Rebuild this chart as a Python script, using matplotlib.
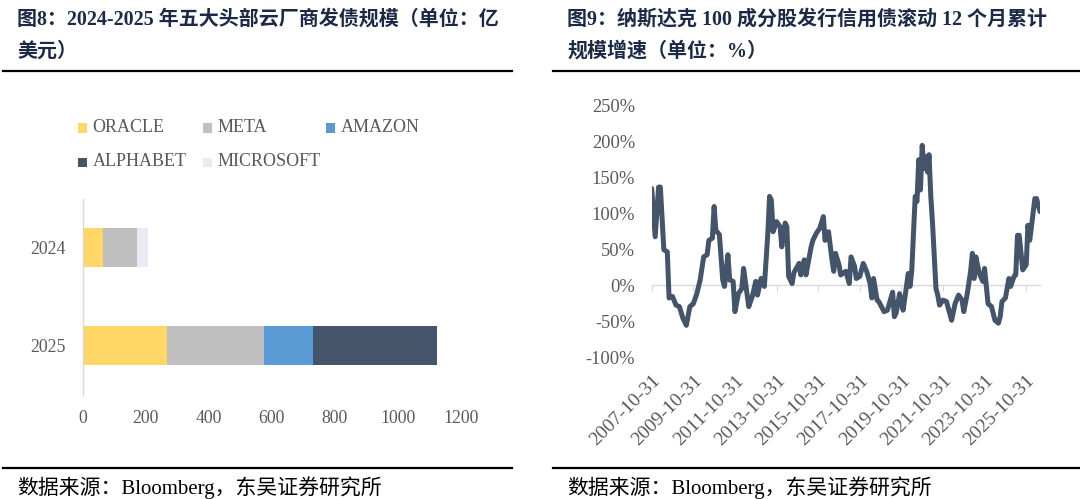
import matplotlib
matplotlib.use("Agg")
import matplotlib.pyplot as plt
from matplotlib.patches import Rectangle
from matplotlib.lines import Line2D
import pandas as pd
import numpy as np

# ---------------- data: left chart ----------------
years = ["2024", "2025"]
series_names = ["ORACLE", "META", "AMAZON", "ALPHABET", "MICROSOFT"]
oracle = [65, 268]
meta = [106, 308]
amazon = [0, 156]
alphabet = [0, 392]
microsoft = [37, 0]
bar_colors = ["#FFD766", "#BFBFBF", "#5B9BD5", "#44546A", "#E8EAF4"]
x_ticks_left = [0, 200, 400, 600, 800, 1000, 1200]

# ---------------- data: right chart ----------------
months = [
    "2007-10", "2007-12",
    "2008-02", "2008-03", "2008-05", "2008-07", "2008-08", "2008-10", "2008-12",
    "2009-02", "2009-04", "2009-06", "2009-08", "2009-10", "2009-12",
    "2010-02", "2010-04", "2010-06", "2010-07", "2010-09", "2010-10", "2010-11",
    "2011-01", "2011-03", "2011-04", "2011-06", "2011-07", "2011-09", "2011-10", "2011-12",
    "2012-02", "2012-03", "2012-05", "2012-06", "2012-08", "2012-10", "2012-11",
    "2013-01", "2013-03", "2013-05", "2013-06", "2013-07", "2013-08", "2013-10", "2013-12",
    "2014-01", "2014-03", "2014-04", "2014-05", "2014-07", "2014-08", "2014-11", "2014-12",
    "2015-02", "2015-03", "2015-06", "2015-07", "2015-09", "2015-11",
    "2016-01", "2016-02", "2016-04", "2016-06", "2016-07", "2016-08", "2016-10", "2016-11",
    "2017-02", "2017-04", "2017-05", "2017-07", "2017-08", "2017-10", "2017-12",
    "2018-02", "2018-04", "2018-05", "2018-06", "2018-08", "2018-09", "2018-12",
    "2019-02", "2019-05", "2019-06", "2019-07", "2019-09", "2019-11", "2019-12",
    "2020-02", "2020-03", "2020-04", "2020-06", "2020-07", "2020-08", "2020-09", "2020-10", "2020-11", "2020-12",
    "2021-01", "2021-02", "2021-03", "2021-04", "2021-06", "2021-07", "2021-08", "2021-10", "2021-12",
    "2022-03", "2022-05", "2022-07", "2022-09", "2022-10", "2022-12",
    "2023-02", "2023-03", "2023-04", "2023-05", "2023-07", "2023-09", "2023-10", "2023-12",
    "2024-02", "2024-04", "2024-06", "2024-07", "2024-08", "2024-10", "2024-12",
    "2025-01", "2025-03", "2025-04", "2025-05", "2025-06", "2025-08", "2025-10", "2025-11", "2025-12",
    "2026-01", "2026-03", "2026-04", "2026-06",
]
growth = [
    134, 67,
    136, 136, 49, 46, -18, -16, -28,
    -30, -46, -56, -30, -26, -12,
    7, 39, 42, 62, 65, 109, 76,
    70, 7, -2, 42, 7, 5, -37, -12,
    -5, 23, -12, -30, -16, 5, -14,
    9, -2, 72, 123, 118, 74, 88, 81,
    53, 86, 81, 12, 2, 17, 30, 14,
    35, 14, 53, 62, 72, 79,
    95, 62, 74, 35, 19, 44, 28, 14,
    19, 2, 39, 26, 9, 12, 30,
    19, 2, -18, 9, -21, -23, -37,
    -35, -10, -44, -39, -12, -35, -18,
    16, -2, 19, 123, 116, 174, 132, 194, 162, 178,
    157, 181, 123, 86, -5, -14, -28, -21, -23,
    -49, -26, -14, -21, -37, -12,
    19, 44, 9, 39, 16, 5, 23, -26,
    -30, -49, -53, -44, -23, -18, 9,
    -2, 12, 14, 69, 69, 21, 28, 83, 62,
    81, 120, 120, 102,
]
date_ticks = ["2007-10-31", "2009-10-31", "2011-10-31", "2013-10-31", "2015-10-31",
              "2017-10-31", "2019-10-31", "2021-10-31", "2023-10-31", "2025-10-31"]
y_ticks_right = [-100, -50, 0, 50, 100, 150, 200, 250]

# ---------------- style ----------------
W, H = 1080, 499
SERIF = ["Liberation Serif", "Noto Sans CJK SC"]
GRAY = "#595959"
TITLE_C = "#1B2A48"
plt.rcParams["font.family"] = SERIF

fig = plt.figure(figsize=(W / 100, H / 100), dpi=100)
fig.patch.set_facecolor("white")


def fx(px):
    return px / W


def fy(py):
    return 1 - py / H


# titles, rules, footnotes
fig.text(fx(17), fy(20), "图8：2024-2025 年五大头部云厂商发债规模（单位：亿", fontsize=14.4,
         fontweight="bold", color=TITLE_C, va="center", ha="left", family=SERIF)
fig.text(fx(17), fy(52), "美元）", fontsize=14.4, fontweight="bold", color=TITLE_C,
         va="center", ha="left", family=SERIF)
fig.text(fx(567), fy(20), "图9：纳斯达克 100 成分股发行信用债滚动 12 个月累计", fontsize=14.4,
         fontweight="bold", color=TITLE_C, va="center", ha="left", family=SERIF)
fig.text(fx(567), fy(52), "规模增速（单位：%）", fontsize=14.4, fontweight="bold", color=TITLE_C,
         va="center", ha="left", family=SERIF)
for (x0, x1) in [(3, 512), (553, 1080)]:
    for yy in (71, 468):
        fig.add_artist(Line2D([fx(x0), fx(x1)], [fy(yy), fy(yy)], color="black", lw=1.6,
                              transform=fig.transFigure))
fig.text(fx(17), fy(488), "数据来源：Bloomberg，东吴证券研究所", fontsize=15, color="black",
         va="center", ha="left", family=SERIF)
fig.text(fx(567), fy(488), "数据来源：Bloomberg，东吴证券研究所", fontsize=15, color="black",
         va="center", ha="left", family=SERIF)

# ---------------- left: stacked horizontal bars ----------------
axL = fig.add_axes([fx(82.7), fy(394.5), fx(461) - fx(82.7), 196 / H])
ypos = np.arange(len(years))
left = np.zeros(len(years))
all_series = [oracle, meta, amazon, alphabet, microsoft]
for name, vals, col in zip(series_names, all_series, bar_colors):
    vals = np.array(vals, dtype=float)
    axL.barh(ypos, vals, left=left, height=0.39, color=col, label=name, edgecolor="none")
    left = left + vals
axL.set_ylim(1.5, -0.5)
axL.set_xlim(0, 1200)
axL.set_yticks(ypos, years)
axL.set_xticks(x_ticks_left, [str(v) for v in x_ticks_left])
axL.tick_params(axis="both", length=0, labelsize=12.8, labelcolor=GRAY)
axL.tick_params(axis="y", pad=12)
axL.tick_params(axis="x", pad=11)
for s in ["top", "right", "bottom"]:
    axL.spines[s].set_visible(False)
axL.spines["left"].set_color("#D9D9D9")
axL.spines["left"].set_linewidth(1.0)
axL.set_facecolor("none")

# manual legend (Excel-like fixed grid)
leg_pos = [(78, 128), (203, 128), (326, 128), (78, 162), (203, 162)]
for (px, py), name, col in zip(leg_pos, series_names, bar_colors):
    fig.add_artist(Rectangle((fx(px), fy(py + 4.5)), 9 / W, 9 / H, facecolor=col,
                             edgecolor="none", transform=fig.transFigure))
    fig.text(fx(px + 14.5), fy(py), name, fontsize=13, color=GRAY, va="center",
             ha="left", family=SERIF)

# ---------------- right: line chart ----------------
axR = fig.add_axes([fx(651.7), fy(357), fx(1040) - fx(651.7), 252 / H])
dts = pd.to_datetime(months) + pd.offsets.MonthEnd(0)
axR.plot(dts, growth, color="#44546A", lw=3.6, solid_joinstyle="round", solid_capstyle="round")
axR.set_xlim(dts[0], dts[-1])
axR.set_ylim(-100, 250)
axR.set_yticks(y_ticks_right, [f"{v}%" for v in y_ticks_right])
axR.tick_params(axis="y", length=0, labelsize=13.3, labelcolor=GRAY, pad=12)
for s in ["top", "right", "left"]:
    axR.spines[s].set_visible(False)
axR.spines["bottom"].set_position(("data", 0))
axR.spines["bottom"].set_color("#D9D9D9")
axR.spines["bottom"].set_linewidth(1.0)
axR.spines["bottom"].set_zorder(0)
tick_dts = pd.to_datetime(date_ticks)
axR.set_xticks(tick_dts)
axR.tick_params(axis="x", direction="out", length=4, color="#D9D9D9", labelbottom=False)
sec = axR.secondary_xaxis("bottom")
sec.set_xticks(tick_dts, date_ticks)
sec.tick_params(axis="x", length=0, pad=11, labelsize=14, labelcolor=GRAY)
for lab in sec.get_xticklabels():
    lab.set_rotation(45)
    lab.set_ha("right")
    lab.set_rotation_mode("anchor")
sec.spines["bottom"].set_visible(False)
axR.set_facecolor("none")

fig.savefig("out.png", dpi=100, facecolor="white")
